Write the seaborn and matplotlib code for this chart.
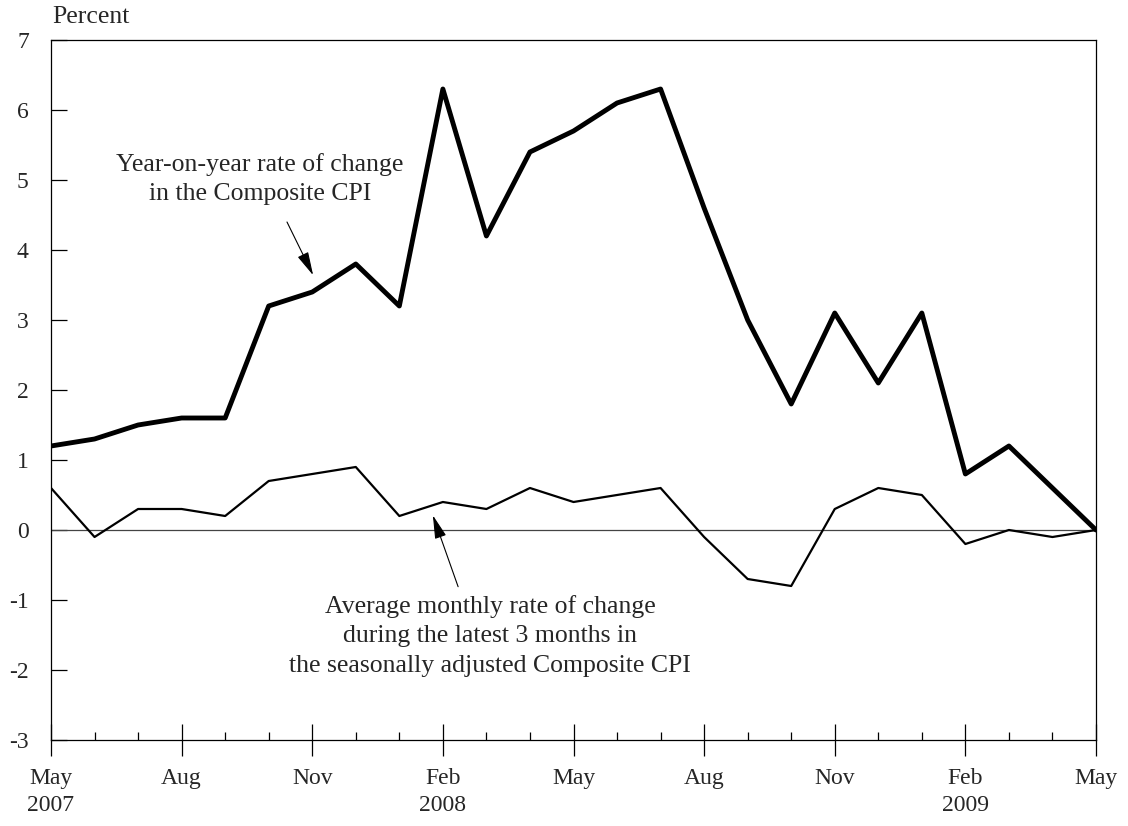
import matplotlib
matplotlib.use("Agg")
import matplotlib.pyplot as plt
import seaborn as sns
import pandas as pd
import numpy as np

months = ["May 2007", "Jun 2007", "Jul 2007", "Aug 2007", "Sep 2007", "Oct 2007", "Nov 2007", "Dec 2007",
          "Jan 2008", "Feb 2008", "Mar 2008", "Apr 2008", "May 2008", "Jun 2008", "Jul 2008", "Aug 2008",
          "Sep 2008", "Oct 2008", "Nov 2008", "Dec 2008", "Jan 2009", "Feb 2009", "Mar 2009", "Apr 2009",
          "May 2009"]
yoy = [1.2, 1.3, 1.5, 1.6, 1.6, 3.2, 3.4, 3.8, 3.2, 6.3, 4.2, 5.4, 5.7, 6.1, 6.3, 4.6,
       3.0, 1.8, 3.1, 2.1, 3.1, 0.8, 1.2, 0.6, 0.0]
avg3m = [0.6, -0.1, 0.3, 0.3, 0.2, 0.7, 0.8, 0.9, 0.2, 0.4, 0.3, 0.6, 0.4, 0.5, 0.6, -0.1,
         -0.7, -0.8, 0.3, 0.6, 0.5, -0.2, 0.0, -0.1, 0.0]
xtick_labels = ["May\n2007", "Aug", "Nov", "Feb\n2008", "May", "Aug", "Nov", "Feb\n2009", "May"]
yticks = [-3, -2, -1, 0, 1, 2, 3, 4, 5, 6, 7]

sns.set_style("white")
plt.rcParams['font.family'] = ['Liberation Serif', 'DejaVu Serif']

df = pd.DataFrame({"idx": np.arange(len(months)), "month": months, "yoy": yoy, "avg3m": avg3m})

fig = plt.figure(figsize=(11.28, 8.26), dpi=100)
ax = fig.add_axes([51/1128, 1-740/826, (1096-51)/1128, (740-40)/826])

ax.axhline(0, color="#444444", lw=0.9, zorder=1)
sns.lineplot(data=df, x="idx", y="avg3m", ax=ax, color="black", lw=1.6, zorder=3)
sns.lineplot(data=df, x="idx", y="yoy", ax=ax, color="black", lw=3.5, zorder=4)

ax.set_xlim(0, len(months) - 1)
ax.set_ylim(-3, 7)
ax.set_xlabel("")
ax.set_ylabel("")

ax.set_xticks(np.arange(0, len(months), 3))
ax.set_xticklabels(xtick_labels, fontsize=17, linespacing=1.35)
ax.set_xticks(np.arange(len(months)), minor=True)
ax.tick_params(axis="x", which="major", direction="inout", length=23, width=0.9, pad=9,
               color="black", bottom=True)
ax.tick_params(axis="x", which="minor", direction="in", length=6, width=0.9, color="black", bottom=True)

ax.set_yticks(yticks)
ax.set_yticklabels([str(v) for v in yticks], fontsize=17)
ax.tick_params(axis="y", which="major", direction="in", length=11.5, width=0.9, pad=16,
               color="black", left=True)

for s in ax.spines.values():
    s.set_visible(True)
    s.set_color("black")
    s.set_linewidth(0.9)

fig.text(52/1128, 1-17/826, "Percent", fontsize=18.5, ha="left", va="center")

ax.text(4.80, 5.01, "Year-on-year rate of change\nin the Composite CPI", fontsize=18.5,
        ha="center", va="center", linespacing=1.4)
ax.annotate("", xy=(6.02, 3.64), xytext=(5.42, 4.4),
            arrowprops=dict(arrowstyle="-|>,head_length=1.45,head_width=0.36", color="black", lw=0.8,
                            shrinkA=0, shrinkB=0))

ax.text(10.08, -1.51, "Average monthly rate of change\nduring the latest 3 months in\nthe seasonally adjusted Composite CPI",
        fontsize=18.5, ha="center", va="center", linespacing=1.45)
ax.annotate("", xy=(8.77, 0.21), xytext=(9.35, -0.81),
            arrowprops=dict(arrowstyle="-|>,head_length=1.45,head_width=0.36", color="black", lw=0.8,
                            shrinkA=0, shrinkB=0))

fig.savefig("out.png", dpi=100)
